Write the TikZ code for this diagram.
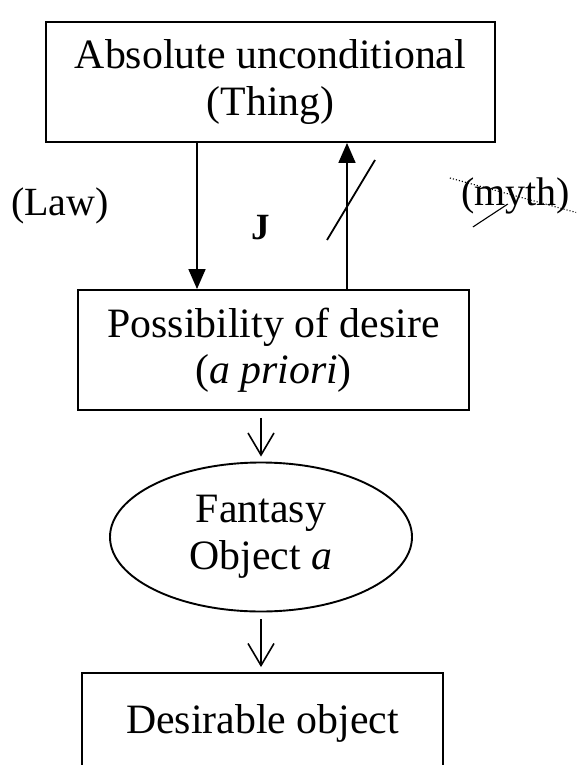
\documentclass[tikz,border=0pt]{standalone}
\usepackage{fontspec}
\setmainfont{Liberation Serif}
\usetikzlibrary{arrows.meta,positioning,shapes.geometric}
\tikzset{
  box/.style={draw=black, line width=1.9pt, fill=white, align=center,
              inner sep=0pt, font=\fontsize{41.8}{46.5}\selectfont},
  oval/.style={ellipse, draw=black, line width=1.9pt, align=center,
              inner sep=0pt, font=\fontsize{41.8}{46.5}\selectfont},
  lbl/.style={anchor=base, inner sep=0pt, font=\fontsize{40}{46}\selectfont},
  flow/.style={-{Triangle[length=20pt,width=17pt]}, line width=1.8pt},
  pass/.style={-{Straight Barb[length=22pt,width=26pt,line width=1.6pt]},
              line width=1.6pt, shorten <=7pt, shorten >=5pt},
  strike/.style={line width=1.1pt},
}
\begin{document}
\begin{tikzpicture}[x=1pt,y=-1pt]
  \useasboundingbox (0,0) rectangle (576,765);
  \clip (0,0) rectangle (576,765);
  % the four stages
  \node[box,minimum width=449pt,minimum height=120pt] (thing) at (270.5,82)
       {Absolute unconditional\\(Thing)};
  \node[box,minimum width=391pt,minimum height=120pt] (desire) at (273.5,350)
       {Possibility of desire\\(\textit{a priori})};
  \node[oval,minimum width=302pt,minimum height=149pt] (fantasy) at (261,537)
       {Fantasy\\Object \textit{a}};
  \node[box,minimum width=361pt,minimum height=100pt] (object) at (262.5,723)
       {Desirable object};
  % law down, blocked way back up
  \draw[flow] ([xshift=-73.5pt]thing.south) -- ([xshift=-76.5pt]desire.north);
  \draw[flow] ([xshift=73.5pt]desire.north) -- ([xshift=76.5pt]thing.south);
  \coordinate (cutA) at (327,240);
  \coordinate (cutB) at (375,160);
  \draw[line width=1.8pt] (cutA) -- (cutB);
  \node[lbl] (law) at (60,215) {(Law)};
  \node[font={\fontsize{37}{40}\selectfont\bfseries}, inner sep=0pt] (jlbl) at (261,228) {J};
  \node[lbl] (myth) at (515.5,205) {(myth)};
  \draw[strike, dotted] ([shift={(-11,-27)}]myth.base west) -- ([shift={(8,8)}]myth.base east);
  \draw[strike] ([shift={(12,22)}]myth.base west) -- ([shift={(47,-1)}]myth.base west);
  % down to the object
  \draw[pass] (fantasy.north |- desire.south) -- (fantasy.north);
  \draw[pass] (fantasy.south) -- (fantasy.south |- object.north);
\end{tikzpicture}
\end{document}
